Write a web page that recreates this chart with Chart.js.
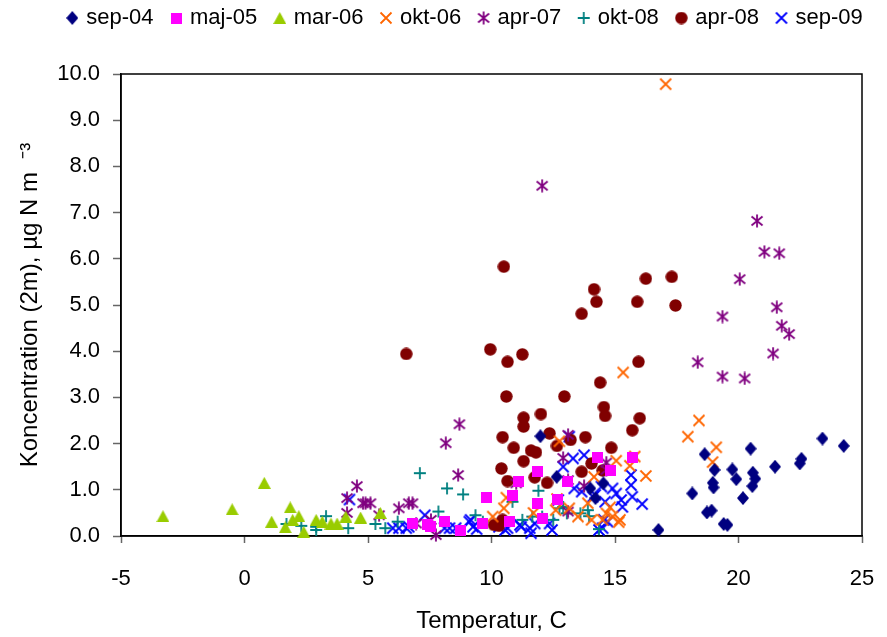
<!DOCTYPE html>
<html>
<head>
<meta charset="utf-8">
<script src="https://cdn.jsdelivr.net/npm/chart.js@4/dist/chart.umd.min.js"></script>
<style>
  html, body { margin: 0; padding: 0; background: #fff; }
  #wrap { width: 887px; height: 637px; }
</style>
</head>
<body>
<div id="wrap"><canvas id="c" width="887" height="637"></canvas></div>
<script>
// Measurement campaigns: [temperature °C, concentration µg N m-3]
const sep04 = [[11.98,2.16],[12.64,1.28],[14.0,1.03],[14.53,1.14],[14.21,0.82],[16.76,0.13],[18.13,0.92],[18.63,1.77],[18.72,0.51],[18.91,0.55],[18.96,1.15],[18.99,1.05],[19.03,1.43],[19.40,0.26],[19.55,0.24],[19.75,1.44],[19.91,1.23],[20.18,0.82],[20.49,1.89],[20.56,1.08],[20.58,1.37],[20.68,1.24],[21.48,1.50],[22.48,1.57],[22.55,1.67],[23.40,2.11],[24.26,1.95]];
const maj05 = [[6.79,0.28],[7.40,0.24],[7.55,0.20],[8.09,0.31],[8.76,0.12],[9.64,0.26],[9.81,0.84],[10.72,0.31],[10.86,0.88],[11.09,1.18],[11.88,1.39],[11.88,0.70],[12.07,0.38],[12.69,0.78],[13.09,1.18],[14.30,1.70],[14.80,1.41],[15.72,1.69]];
const mar06 = [[-3.3,0.43],[-0.5,0.58],[0.8,1.15],[1.1,0.31],[1.65,0.19],[1.85,0.62],[1.95,0.35],[2.2,0.43],[2.4,0.09],[2.9,0.35],[3.15,0.31],[3.5,0.27],[3.75,0.27],[4.1,0.42],[4.7,0.40],[5.5,0.50]];
const okt06 = [[10.05,0.42],[10.5,0.6],[10.6,0.83],[11.7,0.5],[12.6,0.56],[12.65,0.8],[12.75,2.05],[13.15,0.6],[13.5,0.42],[13.9,0.71],[14.05,0.35],[14.15,1.28],[14.5,0.35],[14.65,0.49],[14.8,0.62],[14.9,0.42],[15.05,1.63],[15.15,0.3],[15.2,0.35],[15.33,3.54],[15.6,1.52],[15.8,1.72],[16.25,1.3],[17.05,9.78],[17.95,2.15],[18.4,2.5],[18.95,1.6],[19.1,1.92]];
const apr07 = [[4.15,0.5],[4.15,0.82],[4.55,1.08],[4.8,0.71],[4.9,0.71],[5.1,0.71],[5.45,0.45],[6.25,0.6],[6.65,0.71],[6.8,0.71],[6.95,0.27],[7.55,0.35],[7.75,0.02],[8.15,2.01],[8.65,1.32],[8.7,2.42],[11.0,1.14],[12.05,7.58],[12.9,1.69],[13.1,2.19],[13.1,1.21],[13.1,0.53],[13.75,1.08],[14.65,1.59],[14.65,1.43],[18.35,3.76],[19.35,4.75],[19.35,3.45],[20.05,5.56],[20.25,3.41],[20.75,6.82],[21.05,6.15],[21.4,3.95],[21.55,4.95],[21.65,6.12],[21.75,4.55],[22.05,4.37]];
const okt08 = [[1.7,0.26],[2.3,0.22],[2.9,0.2],[2.9,0.13],[3.3,0.43],[4.2,0.17],[5.3,0.26],[5.7,0.17],[6.2,0.31],[7.1,1.36],[7.85,0.53],[8.2,1.03],[8.85,0.9],[9.35,0.45],[9.65,0.31],[10.85,0.74],[11.25,0.35],[11.65,0.42],[11.9,0.98],[12.05,0.42],[12.5,0.35],[12.75,0.6],[12.9,0.63],[13.05,0.49],[13.6,0.49],[13.9,0.56],[13.95,0.43],[14.35,0.15]];
const apr08 = [[6.55,3.94],[9.95,4.04],[10.1,0.24],[10.3,0.22],[10.4,1.46],[10.45,2.14],[10.45,0.35],[10.5,5.83],[10.6,3.02],[10.65,1.19],[10.65,3.77],[10.9,1.91],[11.25,3.93],[11.3,2.56],[11.3,2.37],[11.3,1.62],[11.6,1.85],[11.75,1.27],[11.8,1.81],[12.0,2.64],[12.25,1.15],[12.35,2.22],[12.65,1.95],[12.95,3.02],[13.2,2.08],[13.65,1.39],[13.65,4.81],[13.8,2.14],[14.05,1.57],[14.15,5.34],[14.25,5.07],[14.4,3.32],[14.5,1.42],[14.55,2.79],[14.6,2.6],[14.85,1.91],[15.7,2.29],[15.9,5.07],[15.95,3.77],[16.0,2.55],[16.25,5.57],[17.3,5.61],[17.45,4.99]];
const sep09 = [[4.25,0.79],[6.0,0.17],[6.25,0.17],[6.55,0.17],[6.65,0.2],[7.3,0.45],[8.1,0.17],[8.3,0.17],[8.55,0.17],[9.1,0.31],[9.15,0.35],[9.25,0.2],[9.4,0.15],[10.3,0.2],[10.45,0.27],[10.55,0.13],[10.65,0.17],[11.15,0.24],[11.2,0.2],[11.55,0.17],[11.6,0.06],[11.75,0.27],[12.35,0.27],[12.45,0.13],[12.7,0.78],[12.9,1.5],[13.15,2.15],[13.3,1.68],[13.35,1.03],[13.65,0.96],[13.75,1.75],[14.1,0.85],[14.2,0.89],[14.35,0.13],[14.45,1.07],[14.5,0.17],[14.55,0.35],[14.6,0.74],[14.7,0.31],[14.9,1.03],[15.05,0.92],[15.25,0.78],[15.3,0.63],[15.65,1.32],[15.65,1.1],[15.7,0.85],[16.1,0.69]];

const seriesLabels = ['sep-04','maj-05','mar-06','okt-06','apr-07','okt-08','apr-08','sep-09'];
const seriesData = [sep04, maj05, mar06, okt06, apr07, okt08, apr08, sep09];
const xTicks = [-5, 0, 5, 10, 15, 20, 25];

const FONT = "'Liberation Sans', Arial, sans-serif";

// Marker images
function marker(w, h, draw) {
  const c = document.createElement('canvas');
  c.width = w; c.height = h;
  const g = c.getContext('2d');
  draw(g, w, h);
  return c;
}
const mkDiamond = col => marker(12, 14, (g, w, h) => {
  g.fillStyle = col; g.beginPath();
  g.moveTo(w/2, 0); g.lineTo(w, h/2); g.lineTo(w/2, h); g.lineTo(0, h/2);
  g.closePath(); g.fill();
});
const mkSquare = col => marker(11, 11, (g, w, h) => { g.fillStyle = col; g.fillRect(0, 0, w, h); });
const mkTriangle = col => marker(13, 12, (g, w, h) => {
  g.fillStyle = col; g.beginPath();
  g.moveTo(w/2, 0); g.lineTo(w, h); g.lineTo(0, h); g.closePath(); g.fill();
});
const mkCircle = col => marker(13, 13, (g, w, h) => {
  g.fillStyle = col; g.beginPath(); g.arc(w/2, h/2, 6.2, 0, Math.PI*2); g.fill();
});
const mkX = col => marker(14, 14, (g, w, h) => {
  g.strokeStyle = col; g.lineWidth = 1.8; g.beginPath();
  g.moveTo(1.5, 1.5); g.lineTo(w-1.5, h-1.5); g.moveTo(w-1.5, 1.5); g.lineTo(1.5, h-1.5);
  g.stroke();
});
const mkPlus = col => marker(14, 14, (g, w, h) => {
  g.strokeStyle = col; g.lineWidth = 1.8; g.beginPath();
  g.moveTo(w/2, 1); g.lineTo(w/2, h-1); g.moveTo(1, h/2); g.lineTo(w-1, h/2);
  g.stroke();
});
const mkStar = col => marker(14, 14, (g, w, h) => {
  g.strokeStyle = col; g.lineWidth = 1.8; g.beginPath();
  g.moveTo(w/2, 0.5); g.lineTo(w/2, h-0.5);
  g.moveTo(1.5, 2.5); g.lineTo(w-1.5, h-2.5);
  g.moveTo(w-1.5, 2.5); g.lineTo(1.5, h-2.5);
  g.stroke();
});

const styles = [
  mkDiamond('#000080'),
  mkSquare('#FF00FF'),
  mkTriangle('#99CC00'),
  mkX('#FF6600'),
  mkStar('#800080'),
  mkPlus('#008080'),
  mkCircle('#800000'),
  mkX('#0000FF')
];
const colors = ['#000080','#FF00FF','#99CC00','#FF6600','#800080','#008080','#800000','#0000FF'];

const datasets = seriesLabels.map((name, i) => ({
  label: name,
  data: seriesData[i].map(([x, y]) => ({x, y})),
  pointStyle: styles[i],
  backgroundColor: colors[i],
  borderColor: colors[i],
  pointRadius: 6,
  pointHoverRadius: 6,
  clip: false
}));

// Plot frame around the chart area
const framePlugin = {
  id: 'frame',
  beforeDatasetsDraw(chart) {
    const {ctx, chartArea: a} = chart;
    ctx.save();
    ctx.strokeStyle = '#000';
    ctx.lineWidth = 1.5;
    ctx.strokeRect(a.left, a.top, a.right - a.left, a.bottom - a.top);
    ctx.restore();
  }
};

// Legend placement across the top
const legendPlace = {
  id: 'legendPlace',
  afterLayout(chart) {
    const lg = chart.legend;
    lg.left = 45;
    lg.right = 887;
    lg.top = -12.5;
  }
};

new Chart(document.getElementById('c'), {
  type: 'scatter',
  data: { datasets },
  plugins: [framePlugin, legendPlace],
  options: {
    responsive: false,
    animation: false,
    devicePixelRatio: 1,
    layout: { padding: { left: 12, right: 0, top: 22.5, bottom: 0 } },
    plugins: {
      legend: {
        position: 'top',
        labels: {
          usePointStyle: true,
          boxWidth: 6,
          boxHeight: 22,
          padding: 19.5,
          color: '#000',
          font: { family: FONT, size: 22 }
        }
      },
      tooltip: { enabled: false }
    },
    scales: {
      x: {
        type: 'linear',
        min: -5,
        max: 25,
        afterBuildTicks(s) { s.ticks = xTicks.map(v => ({value: v})); },
        ticks: { color: '#000', font: { family: FONT, size: 22 }, padding: 23, maxRotation: 0 },
        grid: { drawOnChartArea: false, drawTicks: true, tickLength: 7, color: '#666', tickWidth: 1.5 },
        border: { display: true, color: '#000', width: 1.5 },
        title: { display: true, text: 'Temperatur, C', color: '#000', font: { family: FONT, size: 24 }, padding: { top: 3, bottom: 1.5 } },
        afterFit(s) { s.height = 101; s.paddingRight = 25; }
      },
      y: {
        type: 'linear',
        min: 0,
        max: 10,
        ticks: { stepSize: 1, color: '#000', font: { family: FONT, size: 22 }, padding: 13, callback: v => v.toFixed(1) },
        grid: { drawOnChartArea: false, drawTicks: true, tickLength: 8, color: '#666', tickWidth: 1.5 },
        border: { display: true, color: '#000', width: 1.5 },
        title: { display: true, text: 'Koncentration (2m), µg N m  ⁻³', color: '#000', font: { family: FONT, size: 24 }, padding: { top: 4, bottom: 0 } },
        afterFit(s) { s.width = 109; }
      }
    }
  }
});
</script>
</body>
</html>
